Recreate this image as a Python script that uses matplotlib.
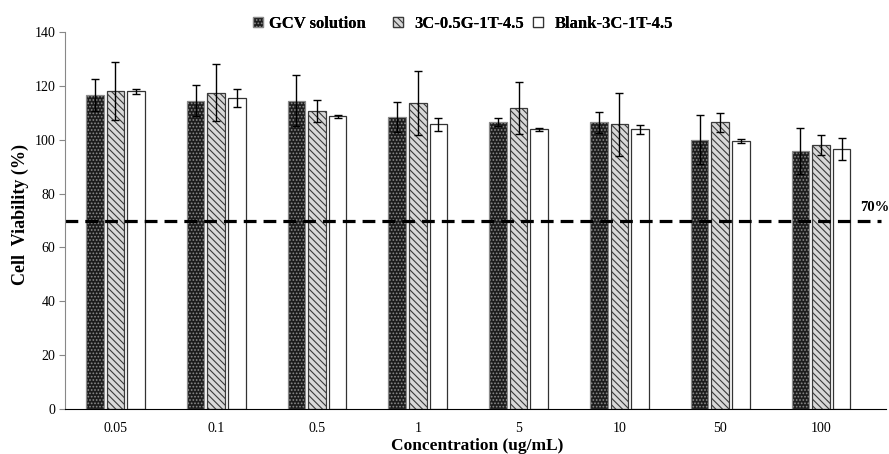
import numpy as np
import matplotlib
matplotlib.use('Agg')
import matplotlib.pyplot as plt

plt.rcParams['font.family'] = ['Liberation Serif', 'DejaVu Serif']
plt.rcParams['hatch.linewidth'] = 0.8

# 数据
conc = ['0.05', '0.1', '0.5', '1', '5', '10', '50', '100']
series = ['GCV solution', '3C-0.5G-1T-4.5', 'Blank-3C-1T-4.5']
gcv = [116.5, 114.5, 114.5, 108.5, 106.5, 106.5, 100.0, 95.8]
gcv_err = [6.0, 5.7, 9.5, 5.5, 1.4, 3.9, 9.2, 8.5]
tg = [118.0, 117.5, 110.8, 113.6, 111.8, 105.8, 106.5, 98.0]
tg_err = [10.7, 10.6, 4.1, 11.8, 9.7, 11.7, 3.5, 3.6]
blank = [118.0, 115.5, 108.7, 105.7, 103.8, 103.8, 99.5, 96.5]
blank_err = [1.0, 3.3, 0.6, 2.5, 0.5, 1.5, 0.8, 4.2]

fig = plt.figure(figsize=(8.89, 4.54), dpi=100)
ax = fig.add_axes([65/889, 1-409/454, 821/889, 377/454])

x = np.arange(len(conc))
w = 0.175
step = 0.205
styles = [
    dict(facecolor='#1c1c1c', edgecolor='#8a8a8a', hatch='.....'),
    dict(facecolor='#d8d8d8', edgecolor='#3a3a3a', hatch='\\\\\\\\\\'),
    dict(facecolor='white', edgecolor='#333333', hatch=None),
]
vals = [gcv, tg, blank]
errs = [gcv_err, tg_err, blank_err]
handles = []
for i in range(3):
    pos = x + (i - 1) * step
    b = ax.bar(pos, vals[i], w, label=series[i], linewidth=0.9, **styles[i])
    handles.append(b)
    ax.errorbar(pos, vals[i], yerr=errs[i], fmt='none', ecolor='black',
                elinewidth=1.0, capsize=3, capthick=1.0)

ax.plot([-0.5, 7.6], [70, 70], ls=(0, (4, 2.2)), color='black', lw=2.3)
ax.text(7.385, 75, '70%', fontsize=10.5, fontweight='bold', ha='left', va='center')

ax.set_xlim(-0.5, 7.645)
ax.set_ylim(0, 140)
ax.set_yticks(range(0, 141, 20))
ax.set_xticks(x)
ax.set_xticklabels(conc)
ax.tick_params(axis='x', length=0, pad=9, labelsize=10)
ax.tick_params(axis='y', length=4, color='#888888', labelsize=10, pad=3)
for s in ['top', 'right']:
    ax.spines[s].set_visible(False)
ax.spines['left'].set_color('#888888')
ax.spines['bottom'].set_color('black')

ax.set_xlabel('Concentration (ug/mL)', fontsize=12.5, fontweight='bold', va='center')
ax.xaxis.set_label_coords(0.502, -0.098)
ax.set_ylabel('Cell  Viability (%)', fontsize=13, fontweight='bold', va='center')
ax.yaxis.set_label_coords(-0.055, 0.517)

# 图例分开放
leg_x = [253, 393, 533]
leg_pad = [0.35, 0.7, 0.7]
for i in range(3):
    lg = fig.legend([handles[i]], [series[i]], loc='center left',
                    bbox_to_anchor=(leg_x[i] / 889, 1 - 24 / 454),
                    frameon=False, borderpad=0, borderaxespad=0,
                    handlelength=0.6, handleheight=0.6, handletextpad=leg_pad[i],
                    prop={'weight': 'bold', 'size': 12})
    fig.add_artist(lg)

fig.savefig('out.png', dpi=100)
